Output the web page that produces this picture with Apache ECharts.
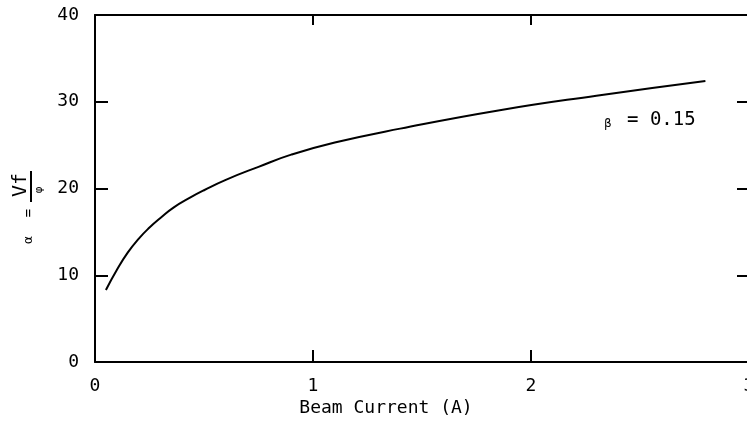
<!doctype html>
<html>
<head>
<meta charset="utf-8">
<title>Beam Current</title>
<script src="https://cdn.jsdelivr.net/npm/echarts@6/dist/echarts.min.js"></script>
<style>
  html, body { margin: 0; padding: 0; background: #fff; }
  #main { width: 747px; height: 425px; }
</style>
</head>
<body>
<div id="main"></div>
<script>
// data
var current = [0.05, 0.1, 0.15, 0.2, 0.25, 0.3, 0.36, 0.44, 0.5, 0.6, 0.75, 0.9, 1.1, 1.4, 1.85, 2.3, 2.8];
var alpha = [8.3, 10.6, 12.6, 14.2, 15.5, 16.6, 17.8, 19.0, 19.8, 21.0, 22.5, 23.9, 25.3, 26.9, 29.0, 30.7, 32.4];
var xTicks = [0, 1, 2, 3];
var yTicks = [0, 10, 20, 30, 40];

var font = 'DejaVu Sans Mono';
var pts = current.map(function (x, i) { return [x, alpha[i]]; });

var chart = echarts.init(document.getElementById('main'));

var axisLine = { show: true, onZero: false, lineStyle: { color: '#000', width: 2 } };

chart.setOption({
  backgroundColor: '#fff',
  animation: false,
  grid: { left: 95, right: -2, top: 15, bottom: 63, outerBoundsMode: 'none' },
  xAxis: [{
    type: 'value', position: 'bottom',
    min: xTicks[0], max: xTicks[xTicks.length - 1], interval: 1,
    axisLine: axisLine,
    axisTick: { show: true, inside: true, length: 12, lineStyle: { color: '#000', width: 2 } },
    axisLabel: { color: '#000', fontFamily: font, fontSize: 18, margin: 15 },
    splitLine: { show: false }
  }, {
    type: 'value', position: 'top',
    min: xTicks[0], max: xTicks[xTicks.length - 1], interval: 1,
    axisLine: axisLine,
    axisTick: { show: true, inside: true, length: 10, lineStyle: { color: '#000', width: 2 } },
    axisLabel: { show: false },
    splitLine: { show: false }
  }],
  yAxis: [{
    type: 'value', position: 'left',
    min: yTicks[0], max: yTicks[yTicks.length - 1], interval: 10,
    axisLine: axisLine,
    axisTick: { show: true, inside: true, length: 13, lineStyle: { color: '#000', width: 2 } },
    axisLabel: { color: '#000', fontFamily: font, fontSize: 18, margin: 16 },
    splitLine: { show: false }
  }, {
    type: 'value', position: 'right',
    min: yTicks[0], max: yTicks[yTicks.length - 1], interval: 10,
    axisLine: { show: false, onZero: false },
    axisTick: { show: true, inside: true, length: 12, lineStyle: { color: '#000', width: 2 } },
    axisLabel: { show: false },
    splitLine: { show: false }
  }],
  series: [{
    type: 'line',
    data: pts,
    smooth: 0.5,
    showSymbol: false,
    lineStyle: { color: '#000', width: 2 }
  }],
  graphic: [
    {
      type: 'text', x: 386, y: 408,
      style: { text: 'Beam Current (A)', font: '18px "DejaVu Sans Mono"', fill: '#000', align: 'center', verticalAlign: 'middle' }
    },
    {
      type: 'text', x: 650, y: 120,
      style: {
        text: '{b|β} = 0.15',
        fill: '#000', align: 'center', verticalAlign: 'middle',
        font: '19px "DejaVu Sans Mono"',
        rich: { b: { fontSize: 12, fontFamily: font, fill: '#000', verticalAlign: 'bottom', padding: [0, 4, 0, 0] } }
      }
    },
    {
      type: 'text', x: 29, y: 240, rotation: Math.PI / 2,
      style: { text: 'α', font: '13px "DejaVu Sans Mono"', fill: '#000', align: 'center', verticalAlign: 'middle' }
    },
    {
      type: 'text', x: 29, y: 213, rotation: Math.PI / 2,
      style: { text: '=', font: '14px "DejaVu Sans Mono"', fill: '#000', align: 'center', verticalAlign: 'middle' }
    },
    {
      type: 'text', x: 21, y: 185, rotation: Math.PI / 2,
      style: { text: 'Vf', font: '20px "DejaVu Sans Mono"', fill: '#000', align: 'center', verticalAlign: 'middle' }
    },
    {
      type: 'line', shape: { x1: 31, y1: 171, x2: 31, y2: 202 },
      style: { stroke: '#000', lineWidth: 2 }
    },
    {
      type: 'text', x: 39, y: 190, rotation: Math.PI / 2,
      style: { text: 'φ', font: '11px "DejaVu Sans Mono"', fill: '#000', align: 'center', verticalAlign: 'middle' }
    }
  ]
});
</script>
</body>
</html>
